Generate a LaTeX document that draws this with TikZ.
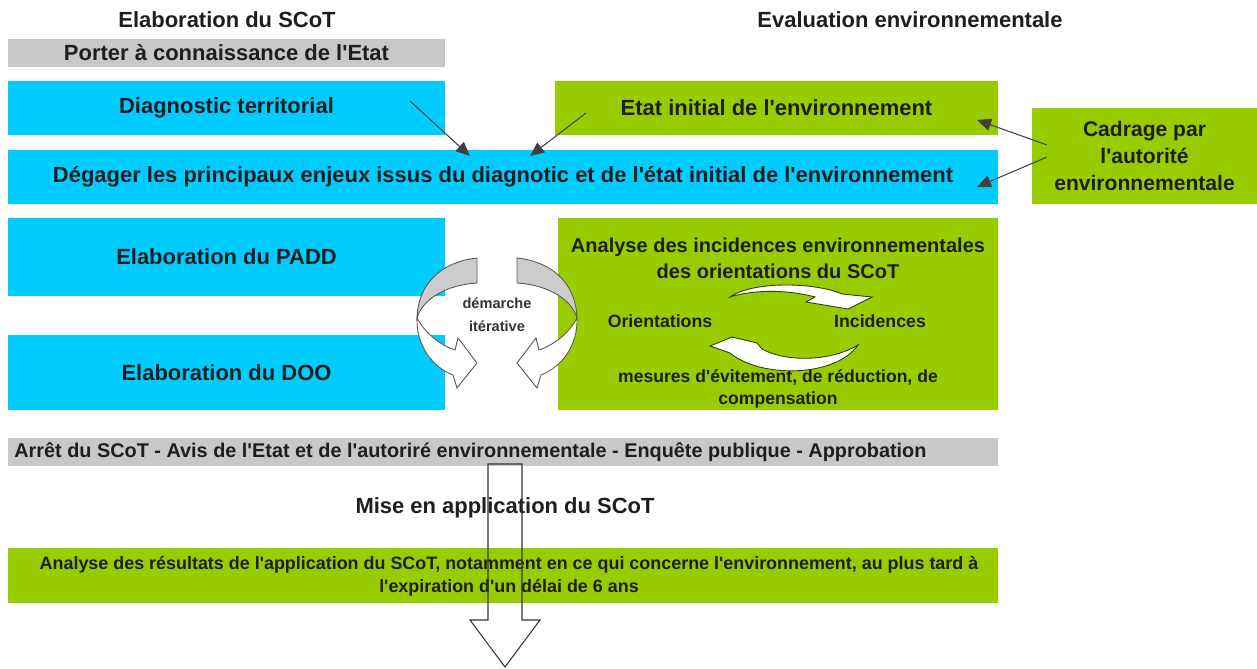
\documentclass[tikz,border=0pt]{standalone}
\usepackage{fontspec}
\setmainfont{Liberation Sans}[Ligatures=TeXOff]
\usetikzlibrary{arrows.meta}
\definecolor{scotcyan}{HTML}{00CCFF}
\definecolor{scotgreen}{HTML}{99CC00}
\definecolor{scotgrey}{HTML}{C8C8C8}
\definecolor{txt}{HTML}{1E1E1E}
\tikzset{
  box/.style={inner sep=0pt, text=txt, font=\bfseries\fontsize{12.5}{15}\selectfont, align=center},
  greybar/.style={box, fill=scotgrey},
  bluebox/.style={box, fill=scotcyan},
  greenbox/.style={box, fill=scotgreen},
  label/.style={inner sep=0pt, text=txt, font=\bfseries\fontsize{12.5}{15}\selectfont, align=center},
  small/.style={inner sep=0pt, text=txt, font=\bfseries\fontsize{10.1}{13}\selectfont, align=center},
  conn/.style={draw=black!75, line width=0.6pt, -{Triangle[length=8pt,width=7pt]}},
  ribbon/.style={draw=black!65, line width=0.5pt, fill=white},
  cycle arrow/.style={draw=black!70!scotgreen, line width=0.5pt, fill=white}
}
\begin{document}
\begin{tikzpicture}[x=0.02cm, y=-0.02cm]
  \useasboundingbox (0,0) rectangle (1257,669);
  % titres
  \node[label] (tscot) at (227,20) {Elaboration du SCoT};
  \node[label] (teval) at (910,20) {Evaluation environnementale};
  % boites
  \node[greybar, minimum width=8.74cm, minimum height=0.56cm] (pac) at (226.5,53) {Porter à connaissance de l'Etat};
  \node[bluebox, minimum width=8.74cm, minimum height=1.08cm] (diag) at (226.5,108) {Diagnostic territorial};
  \node[greenbox, minimum width=8.86cm, minimum height=1.08cm] (etat) at (776.5,108) {Etat initial de l'environnement};
  \node[greenbox, minimum width=4.5cm, minimum height=1.92cm, font=\bfseries\fontsize{12}{15.4}\selectfont] (cadrage) at (1144.5,156)
    {Cadrage par\\l'autorité\\environnementale};
  \node[bluebox, minimum width=19.8cm, minimum height=1.08cm] (enjeux) at (503,177)
    {Dégager les principaux enjeux issus du diagnotic et de l'état initial de l'environnement};
  \node[bluebox, minimum width=8.74cm, minimum height=1.56cm] (padd) at (226.5,257) {Elaboration du PADD};
  \node[bluebox, minimum width=8.74cm, minimum height=1.5cm] (doo) at (226.5,372.5) {Elaboration du DOO};
  \node[greenbox, minimum width=8.8cm, minimum height=3.84cm] (incid) at (778,314) {};
  \node[greybar, minimum width=19.8cm, minimum height=0.56cm] (arret) at (503,452) {};
  \node[greenbox, minimum width=19.8cm, minimum height=1.1cm] (bilan) at (503,575.5) {};
  % textes
  \node[label, font=\bfseries\fontsize{11.4}{14.8}\selectfont] (incidtitle) at (778,258)
    {Analyse des incidences environnementales\\des orientations du SCoT};
  \node[small] (orient) at (660,321) {Orientations};
  \node[small] (incidences) at (880,321) {Incidences};
  \node[small, font=\bfseries\fontsize{10}{12.5}\selectfont] (mesures) at (778,389) {mesures d'évitement, de réduction, de\\compensation};
  \node[label, anchor=west, font=\bfseries\fontsize{11.3}{13}\selectfont] (arrettxt) at (14,452)
    {Arrêt du SCoT - Avis de l'Etat et de l'autoriré environnementale - Enquête publique - Approbation};
  \node[label] (mise) at (505,508) {Mise en application du SCoT};
  \node[small, font=\bfseries\fontsize{10.2}{13}\selectfont] (biltxt) at (509,576)
    {Analyse des résultats de l'application du SCoT, notamment en ce qui concerne l'environnement, au plus tard à\\l'expiration d'un délai de 6 ans};
  % fleches
  \coordinate (diagout) at (410,101);
  \coordinate (enjin1) at (470,156);
  \coordinate (etatout) at (586,113);
  \coordinate (enjin2) at (530,156);
  \coordinate (cadout1) at (1047,145);
  \coordinate (etatin) at (977,120);
  \coordinate (cadout2) at (1047,157);
  \coordinate (enjin3) at (977,187);
  \draw[conn] (diagout) -- (enjin1);
  \draw[conn] (etatout) -- (enjin2);
  \draw[conn] (cadout1) -- (etatin);
  \draw[conn] (cadout2) -- (enjin3);
  % demarche iterative
  \foreach \s/\m in {0/1, 994/-1}{
    \begin{scope}[shift={(\s,0)}, xscale=\m]
      \draw[ribbon, fill=black!20] (477,258) .. controls (440,262) and (418,285) .. (417,318)
        .. controls (422,300) and (445,285) .. (477,283) -- cycle;
      \draw[ribbon] (417,318) .. controls (416,345) and (432,367) .. (453,375) -- (457,388) -- (477,363)
        -- (458,338) -- (455,350) .. controls (440,345) and (425,333) .. cycle;
    \end{scope}
  }
  \node[small, font=\bfseries\fontsize{8.3}{13}\selectfont, text=black!80] (demarche) at (497,315) {démarche\\itérative};
  % cycle orientations / incidences
  \draw[cycle arrow] (730,297) .. controls (755,289) and (790,290) .. (815,297) -- (806,302) -- (848,309)
    -- (872,297) -- (842,294) .. controls (815,282) and (752,281) .. cycle;
  \draw[cycle arrow] (858,345) .. controls (835,378) and (760,378) .. (730,353) -- (710,346) -- (732,337)
    -- (757,343) -- (762,349) .. controls (785,362) and (830,362) .. cycle;
  % mise en application
  \draw[draw=black!80, line width=0.6pt] (488,464) -- (488,620) -- (470,620) -- (505,667) -- (540,620)
    -- (522,620) -- (522,464) -- cycle;
\end{tikzpicture}
\end{document}
